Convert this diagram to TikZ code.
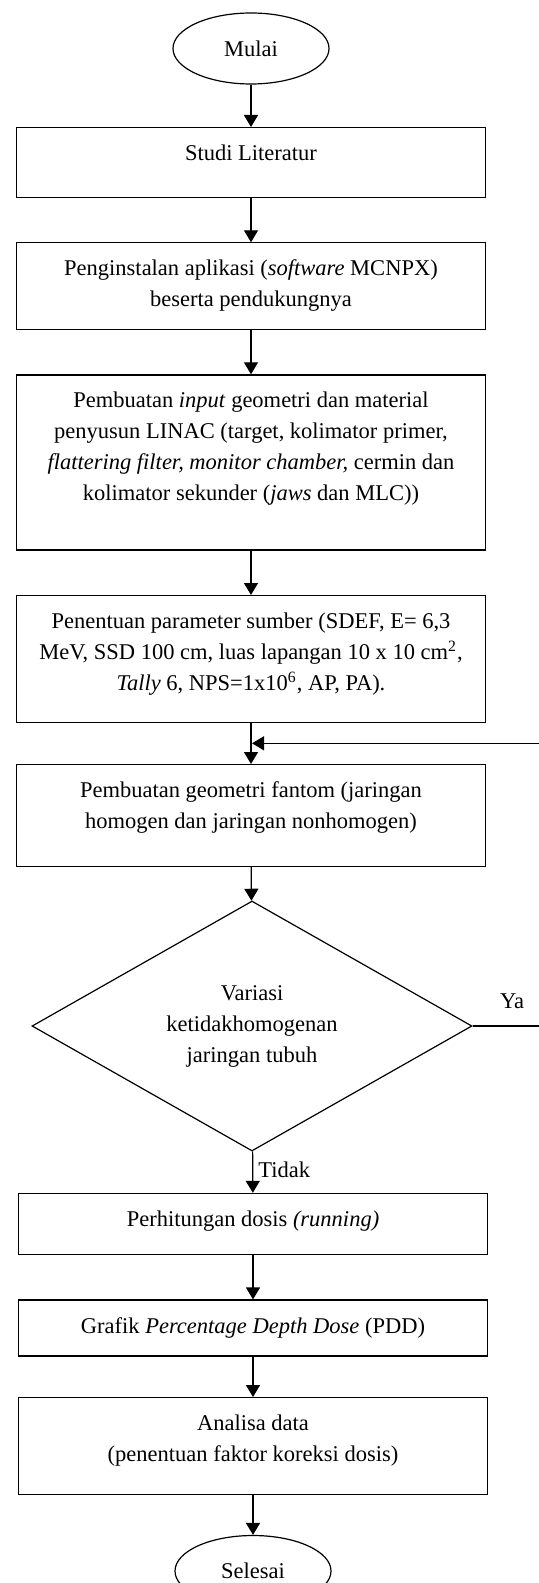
\documentclass[tikz,border=0pt]{standalone}
\usepackage{fontspec}
\setmainfont{Liberation Serif}
\usepackage{tikz}
\usetikzlibrary{arrows.meta,shapes.geometric}
\newcommand{\flowfont}{\fontsize{11.25pt}{15.5pt}\selectfont}
\tikzset{
  pbox/.style={rectangle,draw,line width=0.6pt,minimum width=234.5pt,anchor=north,align=center,inner xsep=2pt,inner ysep=0pt,text height=16.5pt,font=\flowfont},
  tnode/.style={ellipse,draw,line width=0.6pt,minimum width=78pt,minimum height=35.5pt,inner sep=0pt,font=\flowfont},
  dnode/.style={diamond,draw,line width=0.6pt,aspect=1.77,minimum width=220pt,minimum height=125pt,inner sep=0pt,align=center,font=\flowfont},
  lbl/.style={inner sep=0pt,font=\flowfont},
  ar/.style={-{Triangle[length=6pt,width=7pt]},line width=0.6pt}
}

\begin{document}
\begin{tikzpicture}[x=0.5pt,y=-0.5pt]
\useasboundingbox (0,0) rectangle (539,1583);
\node[tnode] (mulai) at (251,48.5) {Mulai};
\node[pbox,text depth=18.3pt] (studi) at (251,127) {Studi Literatur};
\node[pbox,text height=32pt,text depth=11.2pt] (instal) at (251,242.3) {Penginstalan aplikasi (\textit{software} MCNPX)\\beserta pendukungnya};
\node[pbox,text height=63pt,text depth=24.5pt] (input) at (251,374.3) {Pembuatan \textit{input} geometri dan material\\penyusun LINAC (target, kolimator primer,\\\textit{flattering filter, monitor chamber,} cermin dan\\kolimator sekunder (\textit{jaws} dan MLC))};
\node[pbox,text height=47.5pt,text depth=15.8pt] (param) at (251,595) {Penentuan parameter sumber (SDEF, E= 6,3\\MeV, SSD 100 cm, luas lapangan 10 x 10 cm\textsuperscript{2},\\\textit{Tally} 6, NPS=1x10\textsuperscript{6}, AP, PA).};
\node[pbox,text height=32pt,text depth=19pt] (fantom) at (251,764) {Pembuatan geometri fantom (jaringan\\homogen dan jaringan nonhomogen)};
\node[dnode] (variasi) at (252,1026) {Variasi\\ketidakhomogenan\\jaringan tubuh};
\node[pbox,text depth=14.1pt] (dosis) at (253,1192.8) {Perhitungan dosis \textit{(running)}};
\node[pbox,text depth=11.5pt] (pdd) at (253,1299.4) {Grafik \textit{Percentage Depth Dose} (PDD)};
\node[pbox,text height=32pt,text depth=16.3pt] (analisa) at (253,1397) {Analisa data\\(penentuan faktor koreksi dosis)};
\node[tnode] (selesai) at (253,1571) {Selesai};
\coordinate (balik) at (252,743.3);
\node[lbl] (ya) at (512,1001) {Ya};
\node[lbl,anchor=west] (tidak) at (258,1170) {Tidak};
% alur utama
\draw[ar] (mulai) -- (studi);
\draw[ar] (studi) -- (instal);
\draw[ar] (instal) -- (input);
\draw[ar] (input) -- (param);
\draw[ar] (param) -- (fantom);
\draw[ar] (fantom) -- (variasi);
\draw[ar] (variasi) -- (dosis);
\draw[ar] (dosis) -- (pdd);
\draw[ar] (pdd) -- (analisa);
\draw[ar] (analisa) -- (selesai);
% kembali (Ya)
\draw[ar] (variasi.east) -- ++(90,0) |- (balik);
\end{tikzpicture}
\end{document}
